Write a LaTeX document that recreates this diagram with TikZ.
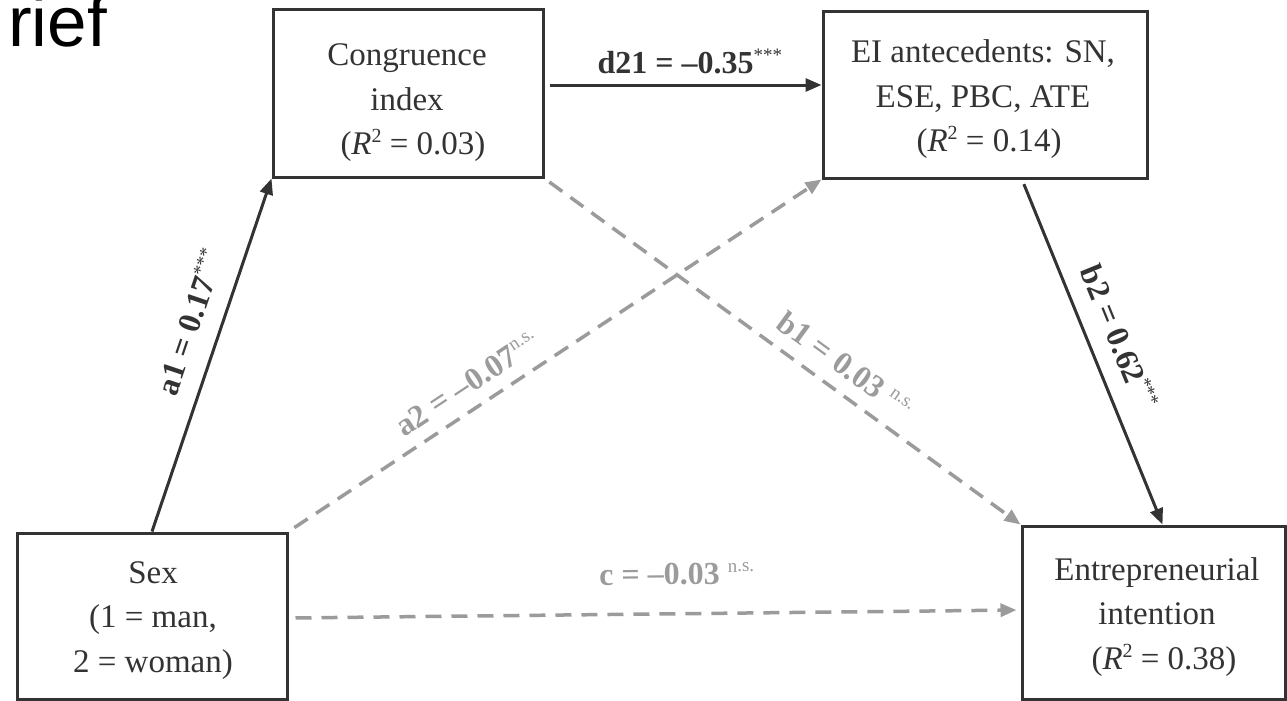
\documentclass[tikz,border=0pt]{standalone}
\usepackage{fontspec}
\setmainfont{Liberation Serif}
\newfontfamily\arialfont{Liberation Sans}
\usetikzlibrary{arrows.meta,calc}
\definecolor{darkc}{RGB}{51,51,51}
\definecolor{dashc}{RGB}{155,155,155}
\newcommand{\mlines}[1]{\begin{tabular}[t]{@{}c@{}}#1\end{tabular}}
\newcommand{\sups}[1]{\raisebox{12pt}{\fontsize{19}{19}\selectfont\mdseries #1}}
\newcommand{\rsq}{{\itshape R}\raisebox{12pt}{\fontsize{20}{20}\selectfont 2}}
\begin{document}
\begin{tikzpicture}[x=1pt,y=-1pt,
  box/.style={draw=darkc, line width=3pt, inner sep=0pt},
  boxtext/.style={inner sep=0pt, anchor=base, text=darkc, font=\fontsize{33}{44.5}\selectfont},
  lab/.style={inner sep=0pt, sloped, font=\fontsize{32}{32}\selectfont\bfseries},
  solidarrow/.style={draw=darkc, line width=3pt, -{Triangle[length=16pt,width=13pt]}},
  dasharrow/.style={draw=dashc, line width=3.5pt, dash pattern=on 16pt off 10pt, -{Triangle[length=16pt,width=13pt]}}
]
\useasboundingbox (0,0) rectangle (1287,701);
\node[anchor=base west, inner sep=0pt, font=\arialfont\fontsize{71}{71}\selectfont] (brief) at (8,47) {rief};

% boxes
\node[box, minimum width=270pt, minimum height=167pt] (cong) at (408,93.5) {};
\node[box, minimum width=324pt, minimum height=166pt] (ei) at (985,95) {};
\node[box, minimum width=270pt, minimum height=166pt] (sex) at (152,616) {};
\node[box, minimum width=263pt, minimum height=173pt] (ent) at (1153.5,612.5) {};

% box texts
\node[boxtext] (congt) at (407,66) {\mlines{Congruence\\index\\\hspace*{12pt}(\rsq{} = 0.03)}};
\node[boxtext] (eit) at (983,63) {\mlines{EI antecedents: SN,\\ESE, PBC, ATE\\\hspace*{12pt}(\rsq{} = 0.14)}};
\node[boxtext] (sext) at (153,583) {\mlines{Sex\\(1 = man,\\2 = woman)}};
\node[boxtext] (entt) at (1157,580) {\mlines{Entrepreneurial\\intention\\\hspace*{14pt}(\rsq{} = 0.38)}};

% connectors
\draw[solidarrow] (sex.north) -- (cong.south west)
  node[lab, text=darkc, pos=0.565, above=18pt] (la1) {a1 = 0.17\sups{***}};
\draw[dasharrow, shorten <=7pt] (sex.north east) -- (ei.south west)
  node[lab, text=dashc, pos=0.361, above=12pt] (la2) {a2 = \textendash0.07\sups{n.s.}};
\draw[dasharrow, shorten <=6pt] (cong.south east) -- (ent.north west)
  node[lab, text=dashc, pos=0.6, above=13pt] (lb1) {b1 = 0.03 \sups{n.s.}};
\draw[solidarrow, shorten <=5pt] ([xshift=37pt]ei.south) -- ([xshift=9pt]ent.north)
  node[lab, text=darkc, pos=0.49, above=17pt] (lb2) {b2 = 0.62\sups{***}};
\draw[dasharrow, shorten <=7pt, shorten >=4pt] ([yshift=-2pt]sex.east) -- ([yshift=2.5pt]ent.west)
  node[lab, text=dashc, pos=0.531, above=27pt] (lc) {c = \textendash0.03 \sups{n.s.}};
\draw[solidarrow, shorten <=5pt] ([yshift=8.5pt]cong.east) -- ([yshift=10pt]ei.west)
  node[lab, text=darkc, pos=0.525, above=10pt] (ld21) {d21 = \textendash0.35\sups{***}};
\end{tikzpicture}
\end{document}
